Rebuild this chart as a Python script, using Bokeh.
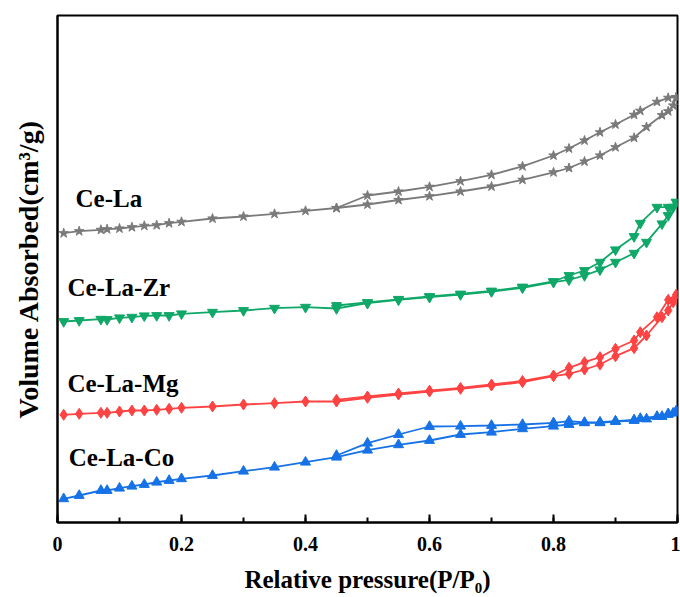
from bokeh.plotting import figure
from bokeh.models import Range1d, SingleIntervalTicker, NumeralTickFormatter, Label
from bokeh.embed import file_html
from bokeh.resources import INLINE

# Relative pressure points (adsorption branch, then desorption branch)
ads_x = [0.01, 0.035, 0.07, 0.08, 0.1, 0.12, 0.14, 0.16, 0.18, 0.2, 0.25, 0.3, 0.35, 0.4, 0.45,
         0.5, 0.55, 0.6, 0.65, 0.7, 0.75, 0.8, 0.825, 0.85, 0.875, 0.9, 0.93, 0.95, 0.975, 0.985,
         0.993, 0.998]
des_x = [0.998, 0.985, 0.967, 0.94, 0.93, 0.9, 0.875, 0.85, 0.825, 0.8, 0.75, 0.7, 0.65, 0.6,
         0.55, 0.5, 0.45]

# Volume absorbed (arbitrary, offset curves)
cela_ads = [289.3, 291.3, 292.7, 293.3, 294, 295.3, 296.7, 297.3, 299.3, 300.7, 304, 306, 308.7,
            311.7, 314.5, 318, 322.5, 326.3, 331, 336, 342.7, 350.2, 354.5, 361, 367, 375.3, 384.7,
            395.5, 407.3, 411.2, 417, 425.3]
cela_des = [425.3, 424.7, 420.7, 411.7, 407.7, 398, 390.2, 382, 374, 367, 356.2, 347.7, 341.3,
            335.7, 331, 327, 314.5]

zr_ads = [201, 202, 203.3, 203, 204.7, 205.3, 206.7, 207, 207, 208.7, 210.3, 212, 214.3, 215.3,
          214, 219.3, 222.7, 225.3, 228, 231, 234.7, 240.3, 242.7, 247, 252.7, 260.3, 269.3, 280.3,
          298.7, 307, 315.3, 320.3]
zr_des = [320.3, 315.3, 315.3, 299.3, 286, 272.7, 260.3, 252, 247, 241, 235.5, 231.5, 228.5, 226,
          223.2, 220, 217]

mg_ads = [107.7, 108.7, 109.7, 109.7, 111, 112, 112, 112.7, 113.7, 114.7, 116, 118, 119.3, 121,
          121, 124.7, 128, 131, 133.7, 137, 140.3, 146.3, 148.7, 153, 158, 166.3, 174.3, 187, 205.3,
          212, 220.3, 227.7]
mg_des = [227.7, 222.7, 205.3, 190.3, 182, 173.7, 165.3, 160.3, 154.7, 147, 141.5, 138, 134.5,
          131.8, 129, 126, 122.7]

co_ads = [23.7, 27, 32, 32, 34.3, 36.3, 38, 40.3, 42, 43.7, 47, 51.3, 55.3, 60.3, 65.3, 72.3,
          77.7, 82, 88, 90.3, 93.7, 96.3, 98, 99.7, 99.7, 101, 102, 103.5, 106, 108, 109.3, 111.3]
co_des = [111.3, 108.7, 106, 104, 102.5, 101.3, 100.3, 100, 101.3, 99.7, 98, 97, 96.3, 96, 88,
          79.3, 67]

names = ["Ce-La", "Ce-La-Zr", "Ce-La-Mg", "Ce-La-Co"]

FONT = "Liberation Serif"

p = figure(width=680, height=597, output_backend="svg", toolbar_location=None,
           x_range=Range1d(0, 1), y_range=Range1d(0, 507))
p.min_border = 0
p.min_border_left = 57
p.min_border_right = 3
p.min_border_top = 15
p.min_border_bottom = 75
p.grid.visible = False
p.outline_line_color = "black"
p.outline_line_width = 2
p.background_fill_color = "white"
p.border_fill_color = "white"

series = [
    (cela_ads, cela_des, "#7a7a7a", "star", 10),
    (zr_ads, zr_des, "#10a868", "inverted_triangle", 10),
    (mg_ads, mg_des, "#ff4242", "diamond", 11),
    (co_ads, co_des, "#1672e6", "triangle", 10),
]
for ya, yd, col, mk, sz in series:
    for xs, ys in ((ads_x, ya), (des_x, yd)):
        p.line(xs, ys, line_color=col, line_width=1.8)
        p.scatter(xs, ys, marker=mk, size=sz, fill_color=col, line_color=col)

# x axis
xa = p.xaxis[0]
xa.ticker = SingleIntervalTicker(interval=0.2, num_minor_ticks=2)
xa.formatter = NumeralTickFormatter(format="0.[0]")
xa.major_tick_in = 8
xa.major_tick_out = 0
xa.minor_tick_in = 5
xa.minor_tick_out = 0
xa.major_tick_line_width = 2
xa.minor_tick_line_width = 2
xa.major_tick_line_color = "black"
xa.minor_tick_line_color = "black"
xa.axis_line_width = 2
xa.axis_line_color = "black"
xa.major_label_standoff = 14
xa.major_label_text_font = FONT
xa.major_label_text_font_style = "bold"
xa.major_label_text_font_size = "20px"
xa.major_label_text_color = "black"
xa.axis_label = "Relative pressure(P/P\u2080)"
xa.axis_label_text_font = FONT
xa.axis_label_text_font_style = "bold"
xa.axis_label_text_font_size = "25px"
xa.axis_label_text_color = "black"
xa.axis_label_standoff = 12

# y axis
ya_ = p.yaxis[0]
ya_.ticker = []
ya_.major_tick_in = 0
ya_.major_tick_out = 0
ya_.minor_tick_in = 0
ya_.minor_tick_out = 0
ya_.axis_line_width = 2
ya_.axis_line_color = "black"
ya_.major_label_text_font_size = "0px"
ya_.axis_label = "Volume Absorbed(cm\u00b3/g)"
ya_.axis_label_text_font = FONT
ya_.axis_label_text_font_style = "bold"
ya_.axis_label_text_font_size = "28px"
ya_.axis_label_text_color = "black"
ya_.axis_label_standoff = 14

label_pos = [(0.029, 324), (0.016, 235), (0.016, 139), (0.018, 65)]
for name, (lx, ly) in zip(names, label_pos):
    p.add_layout(Label(x=lx, y=ly, text=name, text_font=FONT, text_font_style="bold",
                       text_font_size="25px", text_color="black", text_baseline="alphabetic"))

open("out.html", "w").write(file_html(p, INLINE))
